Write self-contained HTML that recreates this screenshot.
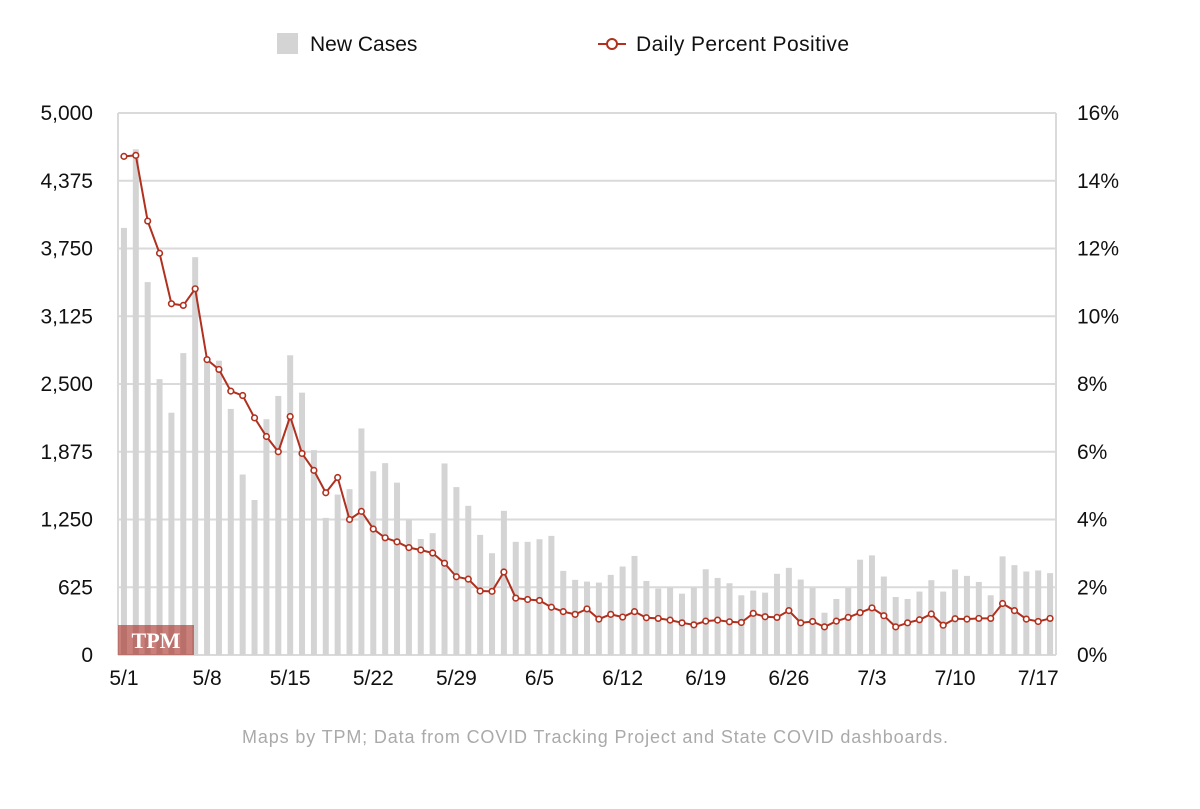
<!DOCTYPE html>
<html><head><meta charset="utf-8"><style>
body{margin:0;background:#fff;width:1200px;height:804px;overflow:hidden;font-family:"Liberation Sans",Arial,sans-serif}
svg text{font-family:"Liberation Sans",Arial,sans-serif}
</style></head><body>
<svg id="chart" width="1200" height="804">
<g id="legend">
 <rect x="277" y="33" width="21" height="21" fill="#d4d4d4"/>
 <text x="310" y="51" font-size="21" fill="#111">New Cases</text>
 <line x1="598" y1="44" x2="626" y2="44" stroke="#b0311f" stroke-width="2"/>
 <circle cx="612" cy="44" r="5" fill="#fff" stroke="#b0311f" stroke-width="2"/>
 <text x="636" y="51" font-size="21" fill="#111" textLength="213">Daily Percent Positive</text>
</g>
<g id="grid"></g><g id="bars"></g><g id="logo"></g><g id="line"></g><g id="axes"></g>
<text x="242" y="743" font-size="18" fill="#aaa" textLength="706">Maps by TPM; Data from COVID Tracking Project and State COVID dashboards.</text>
</svg>
<script>
const cases=[3940,4665,3440,2545,2235,2785,3670,2750,2715,2270,1665,1430,2175,2390,2765,2420,1890,1265,1480,1530,2090,1695,1770,1590,1250,1070,
1124,1767,1549,1376,1108,939,1330,1044,1044,1068,1099,776,693,677,668,739,816,914,683,613,622,566,622,791,711,
662,551,594,575,749,804,696,619,390,517,619,879,919,724,535,517,585,690,585,789,730,674,551,910,829,770,780,755];
const pct=[14.72,14.75,12.81,11.86,10.37,10.32,10.81,8.72,8.43,7.79,7.66,7.0,6.45,6.0,7.04,5.95,5.45,4.79,5.24,4.0,4.24,3.72,3.46,3.34,3.17,3.1,
3.01,2.71,2.31,2.24,1.89,1.88,2.45,1.68,1.64,1.61,1.41,1.28,1.20,1.36,1.06,1.20,1.12,1.28,1.10,1.08,1.03,0.95,0.89,1.00,1.03,
0.98,0.96,1.23,1.13,1.11,1.31,0.95,0.99,0.83,1.0,1.11,1.25,1.39,1.16,0.83,0.95,1.04,1.21,0.88,1.07,1.06,1.08,1.08,1.52,1.31,1.06,0.99,1.08];
const leftTicks=["0","625","1,250","1,875","2,500","3,125","3,750","4,375","5,000"];
const rightTicks=["0%","2%","4%","6%","8%","10%","12%","14%","16%"];
const xLabels=["5/1","5/8","5/15","5/22","5/29","6/5","6/12","6/19","6/26","7/3","7/10","7/17"];
const L=118,R=1056,T=113,B=655,N=cases.length,step=(R-L)/N;
const NS="http://www.w3.org/2000/svg";
function mk(t,a,p){const e=document.createElementNS(NS,t);for(const k in a)e.setAttribute(k,a[k]);p.appendChild(e);return e;}
const xs=i=>L+step*(i+0.5);
const yc=v=>B-v/5000*(B-T);
const yp=v=>B-v/16*(B-T);
const grid=document.getElementById('grid'),axes=document.getElementById('axes');
for(let i=0;i<leftTicks.length;i++){
 const y=B-i*(B-T)/8;
 const g=mk('line',{x1:L,x2:R,y1:y,y2:y,stroke:'#dadada','stroke-width':2},grid);
 
 
 const t=mk('text',{x:93,y:y+7,'font-size':21,fill:'#111','text-anchor':'end'},axes);t.textContent=leftTicks[i];
 
 
 const t2=mk('text',{x:1077,y:y+7,'font-size':21,fill:'#111'},axes);t2.textContent=rightTicks[i];
 
 
}
[L,R].forEach(x=>{const v=mk('line',{x1:x,x2:x,y1:T,y2:B,stroke:'#dadada','stroke-width':2},grid);
 
 });
xLabels.forEach((s,k)=>{const t=mk('text',{x:xs(k*7),y:685,'font-size':21,fill:'#111','text-anchor':'middle'},axes);t.textContent=s;
 
 });
const bars=document.getElementById('bars');
cases.forEach((v,i)=>{const b=mk('rect',{x:xs(i)-3,y:yc(v),width:6,height:B-yc(v),fill:'#d4d4d4'},bars);
 
 });
const logo=document.getElementById('logo');
const lr=mk('rect',{x:118,y:625,width:76,height:30,fill:'rgba(170,50,40,0.62)'},logo);


const lt=mk('text',{x:156,y:648,'font-size':22,'font-weight':'bold',fill:'#fff','text-anchor':'middle',style:'font-family:"Liberation Serif",serif'},logo);lt.textContent='TPM';


const line=document.getElementById('line');
const pl=mk('polyline',{points:pct.map((v,i)=>xs(i)+','+yp(v)).join(' '),fill:'none',stroke:'#b0311f','stroke-width':2},line);


pct.forEach((v,i)=>{const c=mk('circle',{cx:xs(i),cy:yp(v),r:2.8,fill:'#fff',stroke:'#b0311f','stroke-width':1.6},line);
 
 });
</script>
</body></html>
